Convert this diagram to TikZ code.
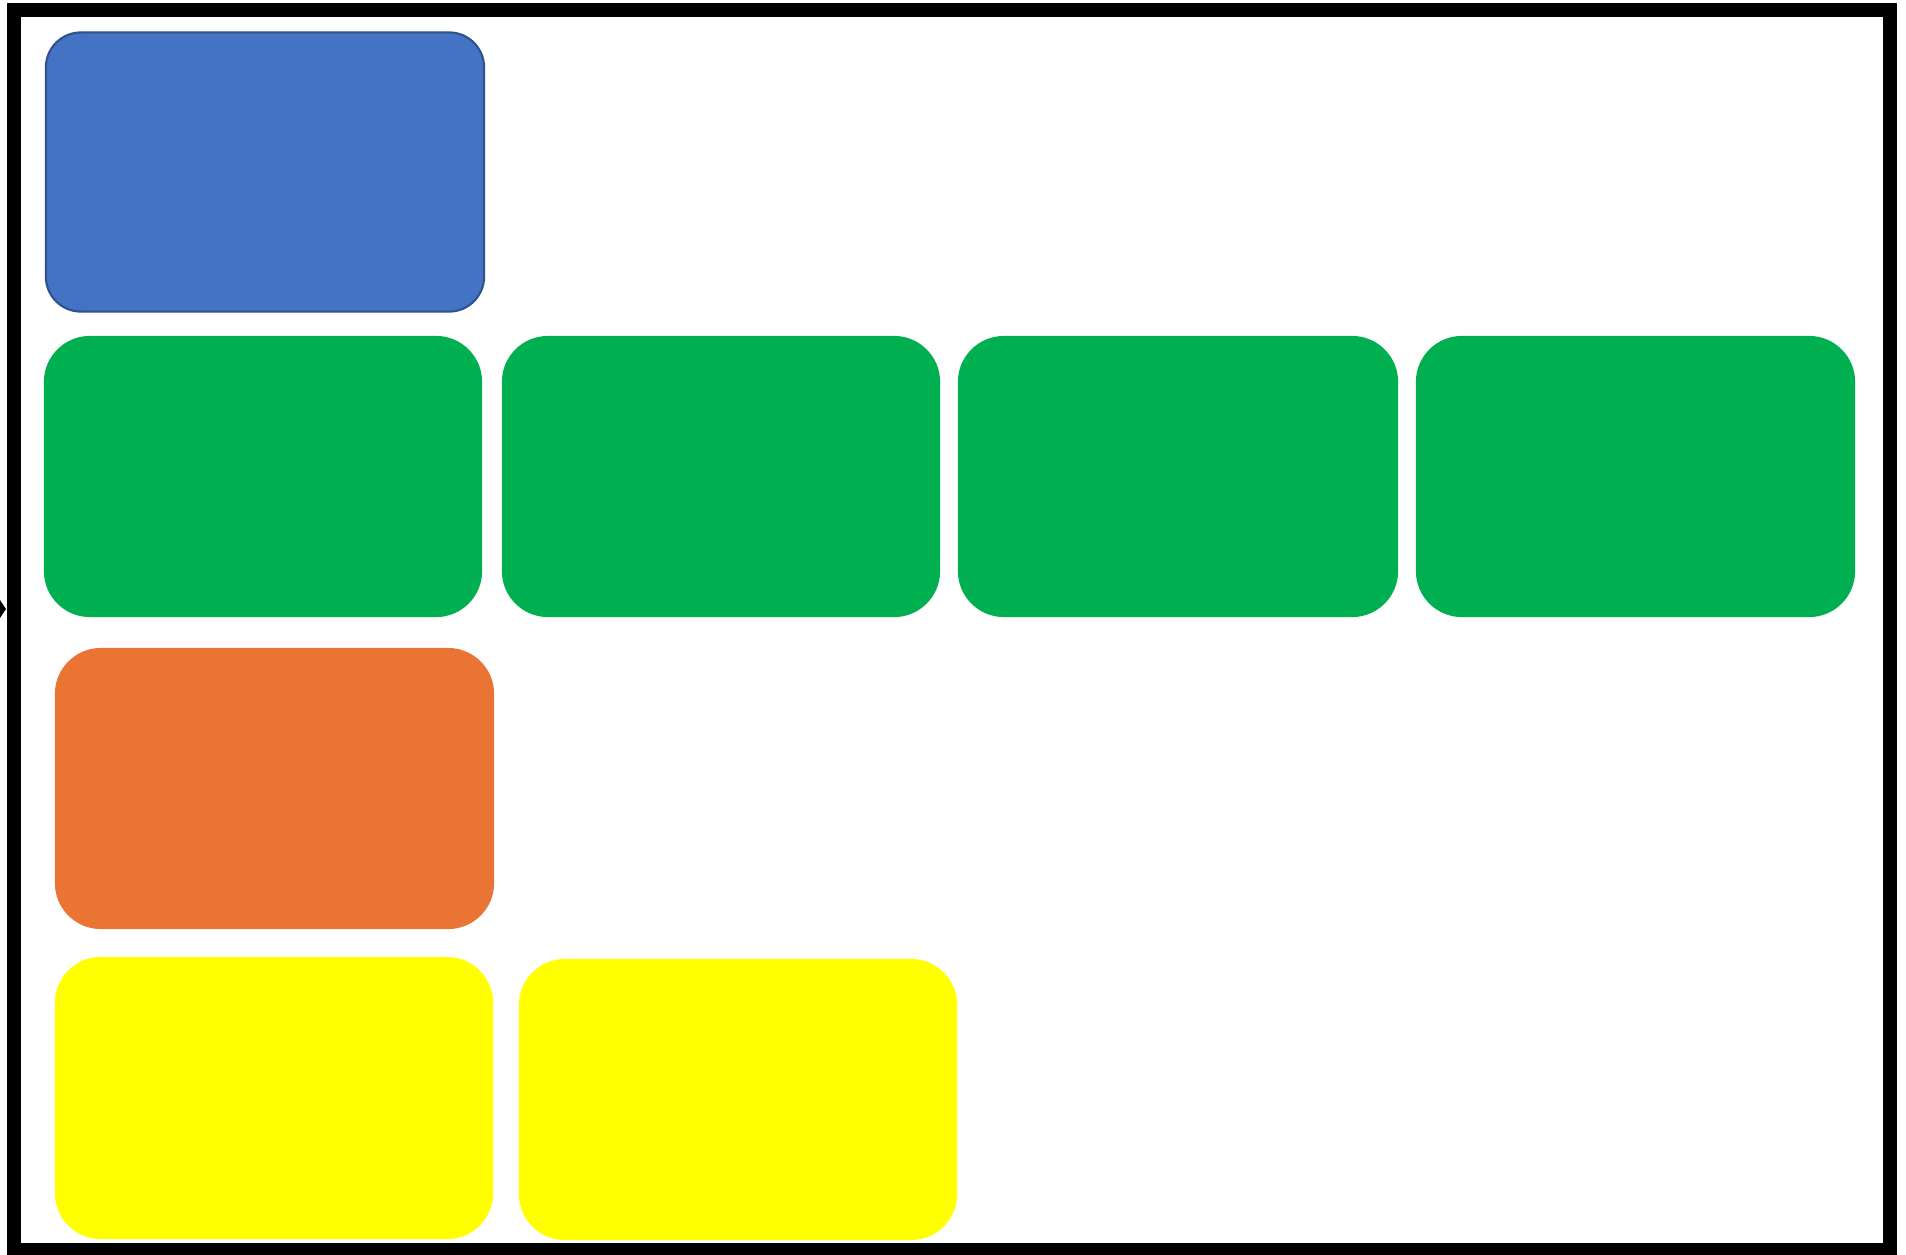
\documentclass[tikz,border=0pt]{standalone}
\usepackage{tikz}
\usetikzlibrary{positioning}
\usepackage{xcolor}
\definecolor{tileblue}{HTML}{4472C4}
\definecolor{tileblueline}{HTML}{2F528F}
\definecolor{tilegreen}{HTML}{00B050}
\definecolor{tileorange}{HTML}{EA7434}
\definecolor{tileyellow}{HTML}{FFFF00}

\begin{document}
\begin{tikzpicture}[
        x=0.01cm, y=-0.01cm,
        tile/.style={inner sep=0pt, minimum width=4.38cm, minimum height=2.81cm, rounded corners=0.46cm},
        frame/.style={draw, line width=0.14cm},
    ]
        \useasboundingbox (0,0) rectangle (1906,1254);

        % --- Outer frame ---
        \draw[frame] (14,10) rectangle (1890,1250);
        \fill (0,600) -- (6,609) -- (0,618) -- cycle;

        % --- Top row ---
        \node[tile, fill=tileblue, draw=tileblueline, line width=0.6pt, rounded corners=0.35cm,
              minimum height=2.79cm] (blue) at (265,172) {};

        % --- Green row ---
        \node[tile, fill=tilegreen] (green1) at (263,476.5) {};
        \node[tile, fill=tilegreen] (green2) at (721,476.5) {};
        \node[tile, fill=tilegreen, minimum width=4.40cm] (green3) at (1178,476.5) {};
        \node[tile, fill=tilegreen, minimum width=4.39cm] (green4) at (1635.5,476.5) {};

        % --- Orange row ---
        \node[tile, fill=tileorange, minimum width=4.39cm] (orange) at (274.5,788.5) {};

        % --- Yellow row ---
        \node[tile, fill=tileyellow, minimum height=2.82cm] (yellow1) at (274,1098) {};
        \node[tile, fill=tileyellow] (yellow2) at (738,1099.5) {};
    \end{tikzpicture}
\end{document}
